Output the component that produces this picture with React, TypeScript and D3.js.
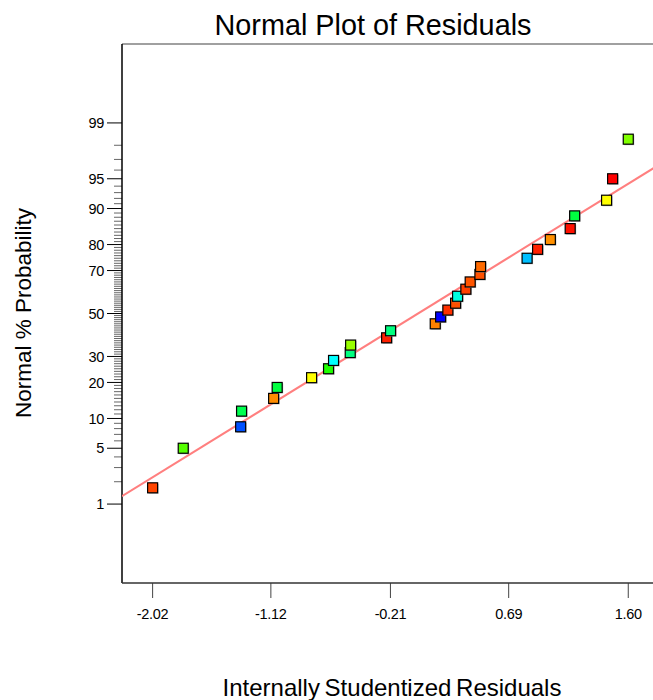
import React, { useEffect, useRef } from "react";
import * as d3 from "d3";

// residuals, already sorted
const residuals = [
  -2.02, -1.787, -1.35, -1.343, -1.099, -1.072, -0.81, -0.681, -0.643, -0.516,
  -0.513, -0.239, -0.209, 0.131, 0.172, 0.227, 0.286, 0.301, 0.364, 0.397,
  0.471, 0.476, 0.83, 0.91, 1.007, 1.158, 1.192, 1.435, 1.481, 1.6,
];
const pointColors = [
  "#ff4500", "#55ff00", "#0050ff", "#00ff50", "#ff8c00", "#00ff40", "#ffff00", "#20ff00", "#00ffff", "#00ff80",
  "#99ff00", "#ff2000", "#00ff80", "#ff8000", "#0000ff", "#ff3000", "#ff5000", "#00ffe0", "#ff4000", "#ff5500",
  "#ff5000", "#ff6a00", "#00bfff", "#ff2000", "#ff9000", "#ff1000", "#00ff40", "#ffff00", "#ff0000", "#80ff00",
];
const xTicks = [-2.02, -1.12, -0.21, 0.69, 1.6];
const yTicks = [1, 5, 10, 20, 30, 50, 70, 80, 90, 95, 99];
const fitMean = 0;
const fitSd = 1.01;

// inverse normal cdf (Acklam)
function probit(p: number) {
  const a = [-39.69683028665376, 220.9460984245205, -275.9285104469687, 138.357751867269, -30.66479806614716, 2.506628277459239];
  const b = [-54.47609879822406, 161.5858368580409, -155.6989798598866, 66.80131188771972, -13.28068155288572];
  const c = [-0.007784894002430293, -0.3223964580411365, -2.400758277161838, -2.549732539343734, 4.374664141464968, 2.938163982698783];
  const d = [0.007784695709041462, 0.3224671290700398, 2.445134137142996, 3.754408661907416];
  const pl = 0.02425;
  let q, r;
  if (p < pl) {
    q = Math.sqrt(-2 * Math.log(p));
    return (((((c[0] * q + c[1]) * q + c[2]) * q + c[3]) * q + c[4]) * q + c[5]) / ((((d[0] * q + d[1]) * q + d[2]) * q + d[3]) * q + 1);
  }
  if (p <= 1 - pl) {
    q = p - 0.5;
    r = q * q;
    return (((((a[0] * r + a[1]) * r + a[2]) * r + a[3]) * r + a[4]) * r + a[5]) * q / (((((b[0] * r + b[1]) * r + b[2]) * r + b[3]) * r + b[4]) * r + 1);
  }
  q = Math.sqrt(-2 * Math.log(1 - p));
  return -(((((c[0] * q + c[1]) * q + c[2]) * q + c[3]) * q + c[4]) * q + c[5]) / ((((d[0] * q + d[1]) * q + d[2]) * q + d[3]) * q + 1);
}

export default function App() {
  const ref = useRef<SVGSVGElement>(null);

  useEffect(() => {
    const svg = d3.select(ref.current);
    svg.selectAll("*").remove();

    const left = 122, right = 659, top = 44, bottom = 583;
    const font = "'Liberation Sans', Arial, sans-serif";

    const x = d3.scaleLinear().domain([-2.253, 1.834]).range([left, right]);
    const z = d3.scaleLinear().domain([-3.29, 3.29]).range([bottom, top]);
    const yPct = (p: number) => z(probit(p / 100));

    svg.append("defs").append("clipPath").attr("id", "plotClip")
      .append("rect").attr("x", left).attr("y", top).attr("width", right - left).attr("height", bottom - top);

    // frame
    svg.append("line").attr("x1", left).attr("x2", right).attr("y1", top).attr("y2", top)
      .attr("stroke", "#808080").attr("stroke-width", 1.5);
    svg.append("line").attr("x1", right).attr("x2", right).attr("y1", top).attr("y2", bottom)
      .attr("stroke", "#808080").attr("stroke-width", 1.5);

    // minor ticks every 1%
    const minors = d3.range(1, 100).filter((p) => !yTicks.includes(p));
    svg.append("g").selectAll("line").data(minors).enter().append("line")
      .attr("x1", left - 8).attr("x2", left)
      .attr("y1", (d) => yPct(d)).attr("y2", (d) => yPct(d))
      .attr("stroke", "#666").attr("stroke-width", 1);

    // major y ticks
    const yg = svg.append("g").selectAll("g").data(yTicks).enter().append("g");
    yg.append("line").attr("x1", left - 15).attr("x2", left)
      .attr("y1", (d) => yPct(d)).attr("y2", (d) => yPct(d))
      .attr("stroke", "#000").attr("stroke-width", 1);
    yg.append("text").attr("x", left - 18).attr("y", (d) => yPct(d)).attr("dy", "0.36em")
      .attr("text-anchor", "end").attr("font-family", font).attr("font-size", 14.5)
      .attr("letter-spacing", -0.3).text((d) => d);

    // x ticks
    const xg = svg.append("g").selectAll("g").data(xTicks).enter().append("g");
    xg.append("line").attr("x1", (d) => x(d)).attr("x2", (d) => x(d))
      .attr("y1", bottom).attr("y2", bottom + 15).attr("stroke", "#444").attr("stroke-width", 1);
    xg.append("text").attr("x", (d) => x(d)).attr("y", bottom + 36)
      .attr("text-anchor", "middle").attr("font-family", font).attr("font-size", 14.5)
      .attr("letter-spacing", -0.3).text((d) => d.toFixed(2));

    // axes
    svg.append("line").attr("x1", left).attr("x2", left).attr("y1", top).attr("y2", bottom)
      .attr("stroke", "#000").attr("stroke-width", 1.5);
    svg.append("line").attr("x1", left).attr("x2", right).attr("y1", bottom).attr("y2", bottom)
      .attr("stroke", "#333").attr("stroke-width", 1.5);

    // fitted line
    const lineVals = x.domain();
    svg.append("path").attr("clip-path", "url(#plotClip)")
      .attr("d", d3.line<number>().x((d) => x(d)).y((d) => z((d - fitMean) / fitSd))(lineVals))
      .attr("fill", "none").attr("stroke", "#ff7f7f").attr("stroke-width", 2);

    // points
    const n = residuals.length;
    const pts = svg.append("g").selectAll("g").data(residuals).enter().append("g")
      .attr("transform", (d, i) => `translate(${x(d)},${yPct((100 * (i + 0.5)) / n)})`);
    pts.append("rect").attr("x", -4).attr("y", -4).attr("width", 10).attr("height", 10)
      .attr("fill", "#999").attr("opacity", 0.7);
    pts.append("rect").attr("x", -5).attr("y", -5).attr("width", 10).attr("height", 10)
      .attr("fill", (d, i) => pointColors[i]).attr("stroke", "#000").attr("stroke-width", 1.2);

    // titles
    svg.append("text").attr("x", 373).attr("y", 35).attr("text-anchor", "middle")
      .attr("font-family", font).attr("font-size", 28.8).text("Normal Plot of Residuals");
    svg.append("text").attr("transform", "translate(31,313) rotate(-90)").attr("text-anchor", "middle")
      .attr("font-family", font).attr("font-size", 22.5).text("Normal % Probability");
    svg.append("text").attr("x", 392).attr("y", 696).attr("text-anchor", "middle")
      .attr("font-family", font).attr("font-size", 24).attr("word-spacing", -2)
      .text("Internally Studentized Residuals");
  }, []);

  return (
    <svg ref={ref} width={653} height={700}
      style={{ position: "absolute", left: 0, top: 0, background: "#fff" }} />
  );
}
